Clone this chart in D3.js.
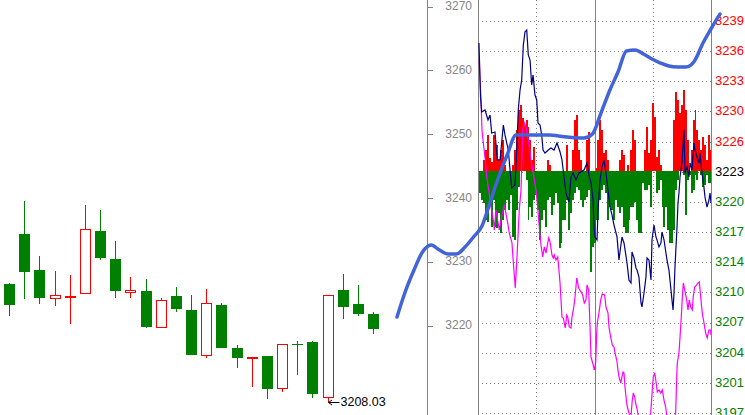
<!DOCTYPE html>
<html><head><meta charset="utf-8">
<script src="https://cdn.jsdelivr.net/npm/d3@7"></script>
<style>html,body{margin:0;padding:0;background:#fff;}svg{display:block;}</style>
</head><body>
<script>
// ---- candlestick data (left price scale) ----
const candleOpen  = [3226.50,3234.34,3228.70,3224.26,3224.62,3225.05,3234.81,3230.42,3225.20,3225.41,3219.72,3224.62,3222.43,3215.33,3223.21,3216.47,3214.98,3215.17,3210.16,3217.08,3217.46,3208.75,3225.56,3223.37,3221.80];
const candleHigh  = [3226.60,3239.51,3230.89,3228.54,3227.92,3238.89,3238.10,3233.24,3227.60,3227.29,3224.36,3226.03,3224.78,3225.72,3223.57,3216.94,3215.11,3215.20,3217.05,3217.62,3217.50,3224.78,3228.07,3226.35,3222.16];
const candleLow   = [3221.49,3224.20,3223.42,3223.10,3220.28,3225.00,3230.27,3224.36,3224.36,3219.66,3219.70,3222.16,3215.38,3214.95,3216.50,3213.39,3210.41,3208.53,3209.62,3212.24,3208.68,3208.03,3221.02,3221.54,3218.71];
const candleClose = [3223.21,3228.43,3224.36,3224.73,3224.70,3235.08,3230.63,3225.45,3225.56,3219.81,3224.00,3222.63,3215.45,3223.48,3216.52,3214.95,3215.03,3209.94,3217.05,3217.02,3209.26,3224.78,3222.95,3221.85,3219.50];
const lowMarkIndex = 21;
const lowMarkLabel = "3208.03";

// ---- left axis ticks ----
const leftTicks = [3270,3260,3250,3240,3230,3220];

// ---- thick blue curve (left price scale), evenly spaced samples ----
const blueVals = [3221.33,3225.41,3228.70,3231.52,3232.62,3231.83,3231.21,3231.21,3232.30,3233.87,
  3235.60,3239.51,3243.43,3246.88,3249.86,3249.86,3249.86,3249.86,3249.86,3249.70,
  3249.55,3249.44,3249.39,3250.02,3253.31,3256.76,3259.73,3263.03,3263.18,3262.55,
  3261.77,3261.14,3260.67,3260.52,3260.52,3261.46,3264.28,3266.63,3268.82];

// ---- right panel (minutes 0..240, right scale) ----
const rightTickLabels = ["3239","3236","3233","3230","3226","3223","3220","3217","3214","3210","3207","3204","3201","3197"];
const baseValue = 3223;
const navyPts = [[1,3236.71],[2.1,3232.75],[2.6,3230.93],[3.8,3229.32],[7.2,3229.54],[10.3,3228.46],[12.4,3229.00],[14.1,3227.07],[17.5,3227.18],[19.9,3224.18],[22.7,3224.18],[26.1,3227.93],[27.8,3226.86],[31.2,3225.25],[34.7,3221.18],[38.1,3221.50],[39.9,3225.25],[41.5,3229.54],[43.3,3231.68],[45.0,3232.75],[46.7,3236.50],[48.4,3237.89],[50.2,3238.11],[51.8,3235.43],[53.6,3234.89],[55.3,3232.21],[56.7,3233.29],[58.7,3231.14],[60.5,3230.61],[61.8,3228.14],[63.9,3227.93],[65.6,3226.86],[67.0,3225.25],[69.0,3224.93],[72.4,3225.25],[75.2,3225.46],[78.3,3225.25],[81.4,3226.00],[84.5,3225.04],[86.5,3224.18],[88.6,3222.36],[90.6,3220.64],[93.7,3219.68],[95.8,3222.36],[97.9,3222.79],[100.9,3222.04],[104.0,3222.79],[109.2,3223.11],[112.3,3223.86],[114.3,3222.57],[116.4,3221.71],[118.5,3219.89],[119.5,3217.00],[120.5,3215.93],[122.6,3215.61],[123.6,3218.82],[125.7,3222.04],[127.7,3223.43],[129.8,3224.18],[131.8,3222.79],[133.9,3220.96],[136.0,3219.14],[138.0,3218.29],[140.1,3217.21],[143.2,3215.93],[145.2,3213.46],[148.3,3215.93],[150.4,3215.29],[153.5,3213.14],[155.5,3211.32],[157.6,3211.00],[158.6,3214.32],[160.7,3213.68],[162.7,3212.61],[163.8,3212.39],[165.8,3211.64],[167.9,3208.86],[168.9,3208.43],[171.0,3209.93],[173.0,3211.64],[174.1,3213.68],[176.1,3213.46],[178.2,3211.32],[179.2,3215.61],[181.3,3217.21],[183.3,3215.93],[184.4,3215.61],[186.4,3214.86],[188.5,3215.29],[189.5,3216.46],[191.6,3215.61],[193.6,3214.21],[194.7,3213.46],[196.7,3212.39],[198.8,3210.25],[199.8,3209.18],[200.9,3208.11],[201.9,3209.93],[202.9,3212.71],[205.0,3217.00],[206.0,3219.57],[207.0,3220.64],[208.1,3222.36],[210.1,3223.86],[212.2,3227.39],[213.2,3222.79],[215.3,3223.43],[217.3,3222.36],[218.4,3223.86],[220.4,3223.11],[222.5,3226.00],[223.5,3225.25],[225.6,3224.50],[227.6,3223.86],[228.6,3224.93],[230.7,3222.79],[232.7,3221.29],[233.8,3220.21],[235.9,3219.14],[237.9,3219.89],[239.0,3220.64],[240.0,3219.57]];
const magentaPts = [[1.3,3234.89],[2.1,3232.75],[3.1,3230.61],[4.1,3227.39],[5.5,3226.00],[7.5,3224.18],[9.0,3222.36],[11.0,3220.96],[13.4,3219.14],[15.8,3217.75],[16.8,3216.68],[18.5,3218.82],[21.9,3216.68],[23.7,3217.75],[27.1,3219.36],[30.6,3217.43],[32.2,3216.36],[35.0,3215.29],[36.4,3213.14],[37.8,3211.32],[38.4,3210.46],[39.9,3213.25],[41.5,3216.68],[42.5,3218.82],[44.3,3220.96],[46.0,3227.39],[47.7,3228.14],[49.4,3227.71],[51.2,3226.64],[52.8,3225.57],[54.6,3224.18],[56.3,3223.11],[58.0,3222.04],[59.7,3220.96],[61.5,3219.14],[63.1,3217.00],[64.9,3215.07],[66.6,3213.79],[68.3,3214.86],[70.0,3214.21],[72.8,3215.82],[74.2,3215.39],[76.2,3214.00],[77.6,3213.68],[78.6,3214.00],[80.3,3213.46],[82.1,3213.79],[83.1,3212.71],[84.5,3211.00],[85.5,3209.18],[86.5,3207.36],[87.9,3207.25],[88.9,3206.71],[89.9,3206.18],[91.4,3207.57],[92.4,3207.36],[94.0,3206.29],[95.8,3206.18],[96.8,3207.36],[98.2,3208.11],[99.6,3209.18],[100.9,3210.57],[101.7,3211.54],[103.7,3210.46],[106.1,3210.04],[107.8,3209.71],[109.5,3208.86],[111.2,3209.18],[112.3,3210.79],[114.0,3210.25],[115.4,3206.29],[116.4,3203.07],[118.1,3202.43],[119.8,3201.68],[121.2,3202.43],[122.3,3205.64],[122.9,3206.71],[124.6,3207.79],[126.4,3209.18],[128.0,3209.82],[130.5,3209.71],[131.8,3208.43],[133.9,3207.79],[134.9,3206.29],[136.7,3205.21],[138.3,3204.36],[140.1,3204.14],[141.1,3203.50],[142.9,3202.75],[144.2,3201.68],[145.2,3200.93],[147.0,3200.29],[149.4,3201.46],[150.4,3201.36],[151.4,3199.86],[152.8,3198.46],[153.8,3197.71],[155.5,3197.07],[157.3,3196.32],[158.9,3198.46],[160.0,3199.21],[161.4,3198.79],[162.4,3198.14],[164.1,3197.39],[165.8,3196.32],[172.0,3195.25],[177.9,3197.07],[179.5,3199.54],[180.6,3200.93],[182.0,3201.36],[183.4,3200.39],[184.7,3199.32],[186.4,3199.54],[188.2,3199.21],[189.8,3199.54],[191.6,3198.46],[193.3,3197.71],[195.0,3196.32],[198.8,3195.25],[203.6,3197.07],[204.7,3200.93],[205.3,3202.43],[207.0,3203.50],[208.1,3205.21],[209.4,3207.36],[210.5,3209.50],[211.5,3211.00],[212.9,3210.25],[215.0,3209.18],[216.3,3208.11],[217.6,3209.18],[219.1,3208.43],[220.7,3208.11],[221.7,3209.50],[223.2,3210.57],[225.3,3210.79],[226.6,3211.00],[228.0,3211.11],[229.4,3209.50],[231.0,3207.79],[232.8,3206.71],[234.5,3205.64],[236.1,3205.11],[237.8,3205.96],[239.5,3205.96],[240.0,3205.43]];
// bars per 2-minute slot, amount above / below the base value
const redAmt = [0,0,1.2,2.2,3.9,1.4,1.0,3.9,3.3,2.8, 1.2,2.2,3.3,0.6,0,0,0,0.6,2.2,4.4, 6.5,7.1,5.7,4.9,5.5,4.7,3.3,1.2,2.6,0, 0,0,0,0,0,1.2,0.6,0,0,0, 0,0,0,0,0,2.8,0,0,2.2,5.5, 6.0,2.2,1.2,0,0,3.3,4.2,0,0,0, 0.3,3.3,5.5,4.4,1.9,2.2,1.2,0,0,0, 0,0,1.2,2.2,1.7,0,0.6,0,2.2,4.4, 3.3,0,0,0,0,2.2,4.7,1.9,3.3,7.3, 5.8,1.5,2.2,0.6,0,0,0,0,0,0, 5.5,8.5,7.6,6.2,7.1,8.7,6.5,3.3,0,2.2, 5.5,6.5,4.4,3.3,2.2,3.6,2.8,1.2,3.9,2.2];
const greenAmt = [2.4,3.1,3.4,5.2,5.5,3.6,6.0,3.1,6.0,6.1, 4.5,6.6,5.2,4.2,3.1,4.2,2.6,7.1,7.4,4.2, 1.7,0,0,0,1.0,5.2,3.9,4.9,3.1,2.6, 4.2,7.4,5.2,4.2,6.0,3.1,2.8,4.7,3.6,2.4, 3.4,8.2,7.7,5.2,5.2,3.1,6.3,4.5,3.1,2.4, 1.7,2.0,3.1,3.9,3.1,2.8,2.0,10.8,8.1,7.7, 5.2,5.2,3.1,2.0,1.5,2.4,5.2,3.9,4.2,5.2, 3.1,3.9,4.5,3.9,6.0,6.6,6.6,5.2,3.9,3.9, 3.3,5.2,6.6,6.6,1.3,2.0,2.0,1.5,3.9,0, 0,2.4,2.0,1.0,3.9,6.0,3.9,6.3,7.7,7.7, 6.3,2.0,1.0,0,0,0.4,4.7,1.0,0.4,2.4, 2.0,0.4,1.0,0,0.4,1.7,1.5,0.4,1.3,1.3];
const sessionMinutes = [0,60,120,180,240];

// ---------------- drawing ----------------
const W = 745, H = 415;
const FONT = "'Liberation Sans', Arial, sans-serif";
const RED = "#ff0000", GREEN = "#008000", GRID = "#808080";

const svg = d3.select("body").append("svg").attr("width", W).attr("height", H);

const yL = d3.scaleLinear().domain([3270, 3220]).range([6.5, 325.5]);
const xC = d3.scaleLinear().domain([0, candleOpen.length - 1]).range([9.5, 373.6]);
const xM = d3.scaleLinear().domain([0, 240]).range([478, 711]);
const yR = d3.scaleLinear().domain([3239.07, 3197.07]).range([21, 413]);
const yRLab = d3.scalePoint().domain(rightTickLabels).range([21, 413]);
const xB = d3.scaleLinear().domain([0, blueVals.length - 1]).range([397, 720]);

svg.append("clipPath").attr("id", "pclip").append("rect")
  .attr("x", xM(0)).attr("y", 0).attr("width", xM(240) - xM(0)).attr("height", H);

// horizontal dotted grid
svg.append("g").attr("shape-rendering", "crispEdges")
  .selectAll("line").data(rightTickLabels).join("line")
  .attr("x1", xM(0)).attr("x2", xM(240))
  .attr("y1", d => Math.round(yRLab(d)) + 0.5).attr("y2", d => Math.round(yRLab(d)) + 0.5)
  .attr("stroke", GRID).attr("stroke-dasharray", "1,3");

// vertical grid
svg.append("g").attr("shape-rendering", "crispEdges")
  .selectAll("line").data(sessionMinutes).join("line")
  .attr("x1", d => Math.round(xM(d)) + 0.5).attr("x2", d => Math.round(xM(d)) + 0.5)
  .attr("y1", 0).attr("y2", H)
  .attr("stroke", GRID)
  .attr("stroke-dasharray", d => (d % 120 === 0) ? null : "1,3");

// bars
const bars = svg.append("g").attr("clip-path", "url(#pclip)").attr("shape-rendering", "crispEdges");
const bx = i => Math.round(xM(2 * i)) + 1;
const bw = i => Math.max(1, Math.round(xM(2 * i + 2)) - Math.round(xM(2 * i)));
bars.selectAll("rect.r").data(redAmt).join("rect").attr("class", "r")
  .attr("x", (d, i) => bx(i)).attr("width", (d, i) => bw(i))
  .attr("y", d => Math.round(yR(baseValue + d))).attr("height", d => Math.round(yR(baseValue)) - Math.round(yR(baseValue + d)))
  .attr("fill", RED);
bars.selectAll("rect.g").data(greenAmt).join("rect").attr("class", "g")
  .attr("x", (d, i) => bx(i)).attr("width", (d, i) => bw(i))
  .attr("y", Math.round(yR(baseValue))).attr("height", d => Math.round(yR(baseValue - d)) - Math.round(yR(baseValue)))
  .attr("fill", GREEN);

// lines
const lineR = d3.line().x(d => xM(d[0])).y(d => yR(d[1]));
const lines = svg.append("g").attr("clip-path", "url(#pclip)");
lines.append("path").datum(magentaPts).attr("d", lineR)
  .attr("fill", "none").attr("stroke", "#ff00ff").attr("stroke-width", 1.2);
lines.append("path").datum(navyPts).attr("d", lineR)
  .attr("fill", "none").attr("stroke", "#000080").attr("stroke-width", 1.2);

// left axis
svg.append("line").attr("x1", 427.5).attr("x2", 427.5).attr("y1", 0).attr("y2", H)
  .attr("stroke", GRID).attr("shape-rendering", "crispEdges");
const lt = svg.append("g");
lt.selectAll("line").data(leftTicks).join("line")
  .attr("x1", 428).attr("x2", 433)
  .attr("y1", d => Math.round(yL(d)) + 0.5).attr("y2", d => Math.round(yL(d)) + 0.5)
  .attr("stroke", GRID).attr("shape-rendering", "crispEdges");
lt.selectAll("text").data(leftTicks).join("text")
  .attr("x", 472).attr("y", d => yL(d) + 0.5)
  .attr("text-anchor", "end").attr("dominant-baseline", "middle")
  .attr("font-family", FONT).attr("font-size", 12).attr("fill", "#858585")
  .text(d => d);

// right labels
const baseIdx = rightTickLabels.indexOf(String(baseValue));
svg.append("g").selectAll("text").data(rightTickLabels).join("text")
  .attr("x", 715).attr("y", d => yRLab(d) + 0.5)
  .attr("dominant-baseline", "middle")
  .attr("font-family", FONT).attr("font-size", 13)
  .attr("fill", (d, i) => i < baseIdx ? RED : (i === baseIdx ? "#000" : GREEN))
  .text(d => d);

// candles
const cg = svg.append("g").attr("shape-rendering", "crispEdges");
candleOpen.forEach((o, i) => {
  const c = candleClose[i], h = candleHigh[i], l = candleLow[i];
  const up = c >= o;
  const col = up ? RED : GREEN;
  const cx = Math.floor(xC(i)) + 0.5;
  cg.append("line").attr("x1", cx).attr("x2", cx)
    .attr("y1", Math.round(yL(h))).attr("y2", Math.round(yL(l))).attr("stroke", col);
  const top = yL(Math.max(o, c)), bot = yL(Math.min(o, c));
  if (up) {
    cg.append("rect").attr("x", cx - 5).attr("width", 10)
      .attr("y", Math.round(top) + 0.5).attr("height", Math.max(1, Math.round(bot - top)))
      .attr("fill", "#fff").attr("stroke", col).attr("stroke-width", 1);
  } else {
    cg.append("rect").attr("x", cx - 5.5).attr("width", 11)
      .attr("y", Math.round(top)).attr("height", Math.max(1, Math.round(bot - top)))
      .attr("fill", col);
  }
});

// low marker
const mx = Math.floor(xC(lowMarkIndex)) + 0.5, my = Math.round(yL(candleLow[lowMarkIndex])) + 0.5;
svg.append("path")
  .attr("d", `M${mx},${my}L${mx + 11},${my}M${mx + 3.5},${my - 2.5}L${mx},${my}L${mx + 3.5},${my + 2.5}`)
  .attr("stroke", "#000").attr("fill", "none");
svg.append("text").attr("x", mx + 12).attr("y", my + 0.5)
  .attr("dominant-baseline", "middle").attr("font-family", FONT).attr("font-size", 12.5)
  .attr("fill", "#000").text(lowMarkLabel);

// thick blue curve on top
svg.append("path").datum(blueVals)
  .attr("d", d3.line().x((d, i) => xB(i)).y(d => yL(d)).curve(d3.curveMonotoneX))
  .attr("fill", "none").attr("stroke", "#4264d8").attr("stroke-width", 3.5)
  .attr("stroke-linecap", "round").attr("stroke-linejoin", "round");
</script>
</body></html>
